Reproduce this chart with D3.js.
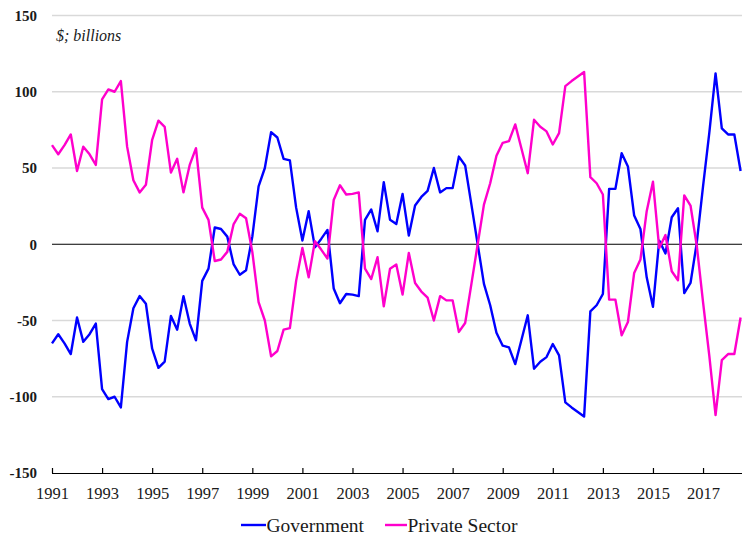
<!DOCTYPE html>
<html>
<head>
<meta charset="utf-8">
<script src="https://cdn.jsdelivr.net/npm/d3@7"></script>
<style>
  html, body { margin: 0; padding: 0; background: #fff; }
  svg { display: block; }
  svg text { font-family: "Liberation Serif", "Times New Roman", Times, serif; }
</style>
</head>
<body>
<svg id="chart" width="754" height="547"></svg>
<script>
// Quarterly data, 1991Q1 .. 2018Q3
const startYear = 1991;
const government = [
  -65, -59, -65, -72,
  -48, -64, -59, -52,
  -95, -101.5, -100, -107,
  -64, -42, -34, -39,
  -68.5, -81, -77, -47,
  -56, -34, -52, -63,
  -24, -16, 11, 10,
  5, -13, -20, -17,
  5, 38, 50, 73.5,
  70, 56, 55, 24,
  2.4, 21.7, -2, 3.5,
  9.4, -29, -38.7, -32.6,
  -33, -34, 16, 22.8,
  8.5, 40.7, 16, 13.3,
  33, 5.7, 25.4, 31,
  35, 50, 34, 36.8,
  36.8, 57.5, 51.6, 26,
  0, -26, -40, -58,
  -66.5, -67.6, -78.6, -62.6,
  -46.6, -81.6, -77, -74,
  -65.4, -72.9, -103.7, -107,
  -110, -113, -44, -40,
  -32.6, 36.3, 36.3, 59.7,
  51, 18.8, 10, -21.7,
  -41, 2.4, -6, 17.7,
  23.6, -32, -25.4, 1,
  38, 73, 112, 76,
  72, 72, 48
];
const privateSector = [
  65, 59, 65, 72,
  48, 64, 59, 52,
  95, 101.5, 100, 107,
  64, 42, 34, 39,
  68.5, 81, 77, 47,
  56, 34, 52, 63,
  24, 16, -11, -10,
  -5, 13, 20, 17,
  -5, -38, -50, -73.5,
  -70, -56, -55, -24,
  -2.4, -21.7, 2, -3.5,
  -9.4, 29, 38.7, 32.6,
  33, 34, -16, -22.8,
  -8.5, -40.7, -16, -13.3,
  -33, -5.7, -25.4, -31,
  -35, -50, -34, -36.8,
  -36.8, -57.5, -51.6, -26,
  0, 26, 40, 58,
  66.5, 67.6, 78.6, 62.6,
  46.6, 81.6, 77, 74,
  65.4, 72.9, 103.7, 107,
  110, 113, 44, 40,
  32.6, -36.3, -36.3, -59.7,
  -51, -18.8, -10, 21.7,
  41, -2.4, 6, -17.7,
  -23.6, 32, 25.4, -1,
  -38, -73, -112, -76,
  -72, -72, -48
];
const xTickYears = [1991, 1993, 1995, 1997, 1999, 2001, 2003, 2005, 2007, 2009, 2011, 2013, 2015, 2017];
const yTicks = [-150, -100, -50, 0, 50, 100, 150];
const seriesNames = ["Government", "Private Sector"];
const seriesColors = ["#0000ff", "#ff00cc"];
const unitLabel = "$; billions";

const svg = d3.select("#chart");
const plotLeft = 52, plotRight = 742, plotTop = 15.5, plotBottom = 473;

const x = d3.scaleLinear().domain([1991, 2018.5]).range([plotLeft, 740.6]);
const y = d3.scaleLinear().domain([-150, 150]).range([plotBottom, plotTop]);

const serif = '"Liberation Serif", "Times New Roman", Times, serif';

// gridlines
svg.append("g").selectAll("line")
  .data(yTicks.filter(d => d !== 0 && d !== -150))
  .join("line")
  .attr("x1", plotLeft).attr("x2", plotRight)
  .attr("y1", d => y(d)).attr("y2", d => y(d))
  .attr("stroke", "#d9d9d9").attr("stroke-width", 1.3);

// zero line
svg.append("line")
  .attr("x1", plotLeft).attr("x2", plotRight)
  .attr("y1", y(0)).attr("y2", y(0))
  .attr("stroke", "#000").attr("stroke-width", 1);

// y labels
svg.append("g").selectAll("text")
  .data(yTicks)
  .join("text")
  .attr("x", 37).attr("y", d => y(d))
  .attr("dy", "0.35em")
  .attr("text-anchor", "end")
  .style("font-family", serif)
  .style("font-weight", "bold")
  .style("font-size", "15px")
  .attr("fill", "#1a1a1a")
  .text(d => d);

// x axis
const xAxis = d3.axisBottom(x)
  .tickValues(xTickYears)
  .tickFormat(d3.format("d"))
  .tickSizeInner(-5)
  .tickSizeOuter(0)
  .tickPadding(14);
const gx = svg.append("g").attr("transform", `translate(0,${plotBottom})`).call(xAxis);
gx.attr("font-family", null);
gx.select(".domain").attr("d", `M${plotLeft},0.5H${plotRight}`).attr("stroke", "#000").attr("stroke-width", 1.2);
gx.selectAll(".tick line").attr("stroke", "#000").attr("stroke-width", 1.2);
gx.selectAll(".tick text")
  .style("font-family", serif)
  .style("font-size", "16.5px")
  .attr("fill", "#1a1a1a");

// unit label
svg.append("text")
  .attr("x", 56).attr("y", 41)
  .style("font-family", serif)
  .style("font-style", "italic")
  .style("font-size", "16px")
  .attr("fill", "#1a1a1a")
  .text(unitLabel);

// lines
const line = d3.line()
  .x((d, i) => x(startYear + i / 4))
  .y(d => y(d));

[government, privateSector].forEach((s, k) => {
  svg.append("path")
    .datum(s)
    .attr("fill", "none")
    .attr("stroke", seriesColors[k])
    .attr("stroke-width", 2.4)
    .attr("stroke-linejoin", "round")
    .attr("d", line);
});

// legend
const legendY = 525;
const legendItems = [
  { x0: 241, x1: 266, name: seriesNames[0], color: seriesColors[0] },
  { x0: 385, x1: 407, name: seriesNames[1], color: seriesColors[1] }
];
legendItems.forEach(it => {
  svg.append("line")
    .attr("x1", it.x0).attr("x2", it.x1)
    .attr("y1", legendY).attr("y2", legendY)
    .attr("stroke", it.color).attr("stroke-width", 2.4);
  svg.append("text")
    .attr("x", it.x1 + 0.5).attr("y", legendY)
    .attr("dy", "0.35em")
    .style("font-family", serif)
    .style("font-size", "19.5px")
    .attr("fill", "#1a1a1a")
    .text(it.name);
});
</script>
</body>
</html>
